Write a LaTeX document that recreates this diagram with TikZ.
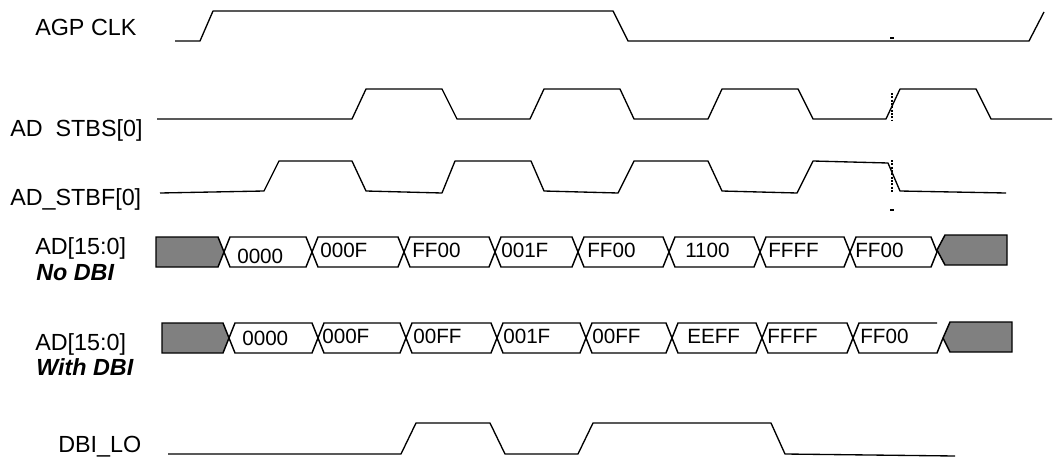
\documentclass[tikz,border=0pt]{standalone}
\usepackage{fontspec}
\setsansfont{Liberation Sans}
\usepackage{tikz}
\definecolor{holdgrey}{HTML}{808080}
\newcommand{\lblfont}{\sffamily\fontsize{17.5}{20}\selectfont}
\newcommand{\valfont}{\sffamily\fontsize{15.5}{18}\selectfont}

\begin{document}
\begin{tikzpicture}[x=0.75pt, y=-0.75pt,
  lbl/.style={anchor=base west, inner sep=0pt, font=\lblfont},
  tag/.style={lbl, font=\lblfont\bfseries\itshape},
  val/.style={anchor=base west, inner sep=0pt, font=\valfont},
  wave/.style={line width=1pt, line join=round},
  bus/.style={line width=1.1pt},
  hold/.style={bus, fill=holdgrey},
  cursor/.style={line width=1.5pt, densely dotted},
]
\useasboundingbox (0,0) rectangle (1057,457);

% signal names
\node[lbl] (clk) at (35,35) {AGP CLK};
\node[lbl] (stbs) at (10,136) {AD\hspace{0.556em}STBS[0]};
\node[lbl] (stbf) at (10,205) {AD\_STBF[0]};
\node[lbl] (adA) at (35,254) {AD[15:0]};
\node[tag] (noDbi) at (36,280) {No DBI};
\node[lbl] (adB) at (35,350) {AD[15:0]};
\node[tag] (withDbi) at (36,375) {With DBI};
\node[lbl] (dbiLo) at (58,452) {DBI\_LO};

% clock and strobes
\draw[wave] (175,41) -- (200,41) -- (213,11) -- (613,11) -- (628,41) -- (1029,41) -- (1044,12);
\draw[wave] (157,119) -- (352,119) -- (366,89) -- (442,89) -- (457,119) -- (530,119) -- (544,89) -- (620,89)
  -- (634,119) -- (708,119) -- (722,89) -- (798,89) -- (813,119) -- (886,119) -- (900,89) -- (976,89)
  -- (991,119) -- (1052,119);
\draw[wave] (160,193) -- (264,191) -- (279,161) -- (352,161) -- (366,191) -- (442,193) -- (455,161) -- (531,161)
  -- (544,191) -- (618,193) -- (634,161) -- (708,161) -- (722,191) -- (797,193) -- (813,161) -- (888,163)
  -- (900,191) -- (1006,193);

% cursor
\draw[cursor] (892,93) -- (892,121);
\draw[cursor] (892,160) -- (892,192);
\draw[line width=1.2pt] (890,38) -- (894,38);
\draw[line width=1.2pt] (890,210) -- (894,210);

% AD[15:0] no DBI
\draw[hold] (156,237) -- (218,237) -- (224,252) -- (218,267) -- (156,267) -- cycle;
\foreach \a/\b in {224/312,312/404,404/495,495/578,578/669,669/760,760/850,850/937}
  \draw[bus] (\a,252) -- (\a+6,237) -- (\b-6,237) -- (\b,252) -- (\b-6,267) -- (\a+6,267) -- cycle;
\draw[hold] (937,250) -- (945,235) -- (1007,235) -- (1007,265) -- (945,265) -- cycle;
\foreach \x/\y/\v [count=\i] in {237/263/0000, 320/257/000F, 412/257/FF00, 501/257/001F,
    587/257/FF00, 685/257/1100, 768/257/FFFF, 855/257/FF00}
  \node[val] (a\i) at (\x,\y) {\v};

% AD[15:0] with DBI
\draw[hold] (162,323) -- (223,323) -- (229,338) -- (223,353) -- (162,353) -- cycle;
\foreach \a/\b in {229/318,318/406,406/497,497/586,586/672,672/762,762/853}
  \draw[bus] (\a,338) -- (\a+6,323) -- (\b-6,323) -- (\b,338) -- (\b-6,353) -- (\a+6,353) -- cycle;
\draw[bus] (853,338) -- (859,323) -- (937,323);
\draw[bus] (853,338) -- (859,353) -- (937,353) -- (943,338);
\draw[hold] (943,338) -- (950,322) -- (1012,322) -- (1012,352) -- (950,352) -- cycle;
\foreach \x/\y/\v [count=\i] in {242/345/0000, 322/343/000F, 413/343/00FF, 503/343/001F,
    592/343/00FF, 687/343/EEFF, 767/343/FFFF, 860/343/FF00}
  \node[val] (b\i) at (\x,\y) {\v};

% DBI_LO
\draw[wave] (168,454) -- (401,454) -- (416,423) -- (490,423) -- (505,454) -- (578,454) -- (593,423)
  -- (771,423) -- (785,454) -- (955,456);
\end{tikzpicture}
\end{document}
